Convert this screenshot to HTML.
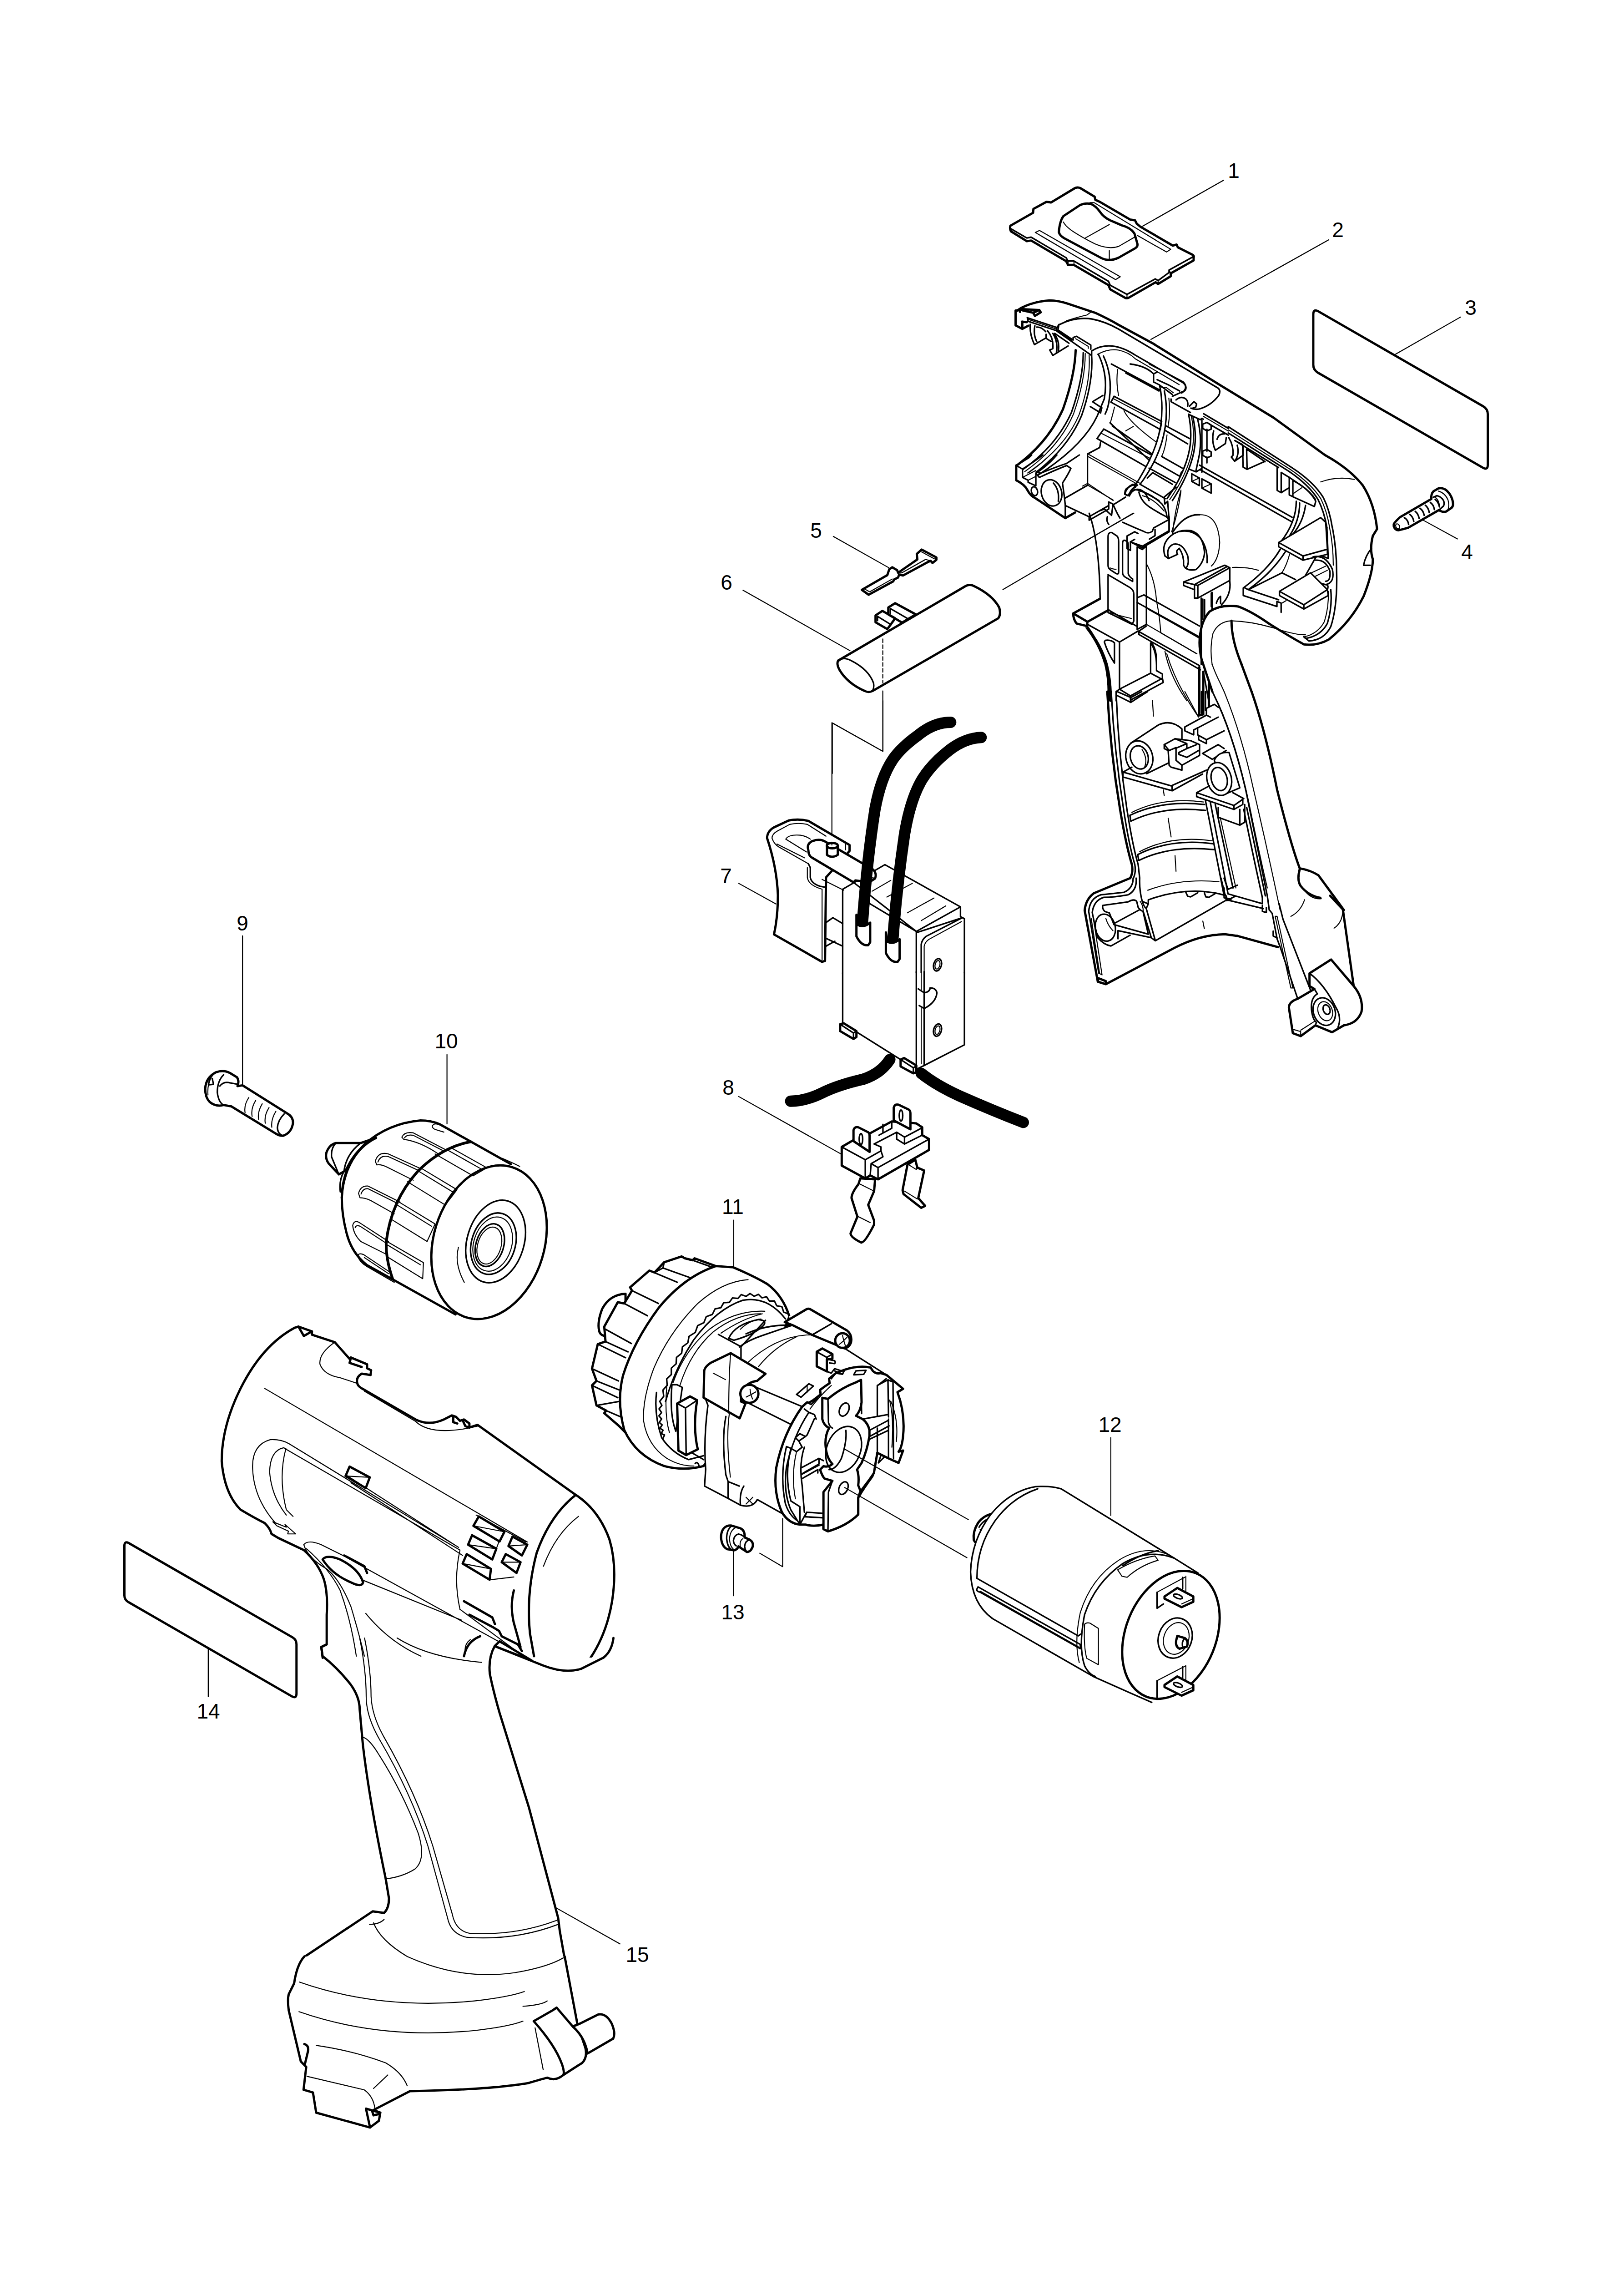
<!DOCTYPE html>
<html><head><meta charset="utf-8">
<style>
html,body{margin:0;padding:0;background:#fff;}
svg{display:block;}
svg *{vector-effect:non-scaling-stroke;}
.k{fill:none;stroke:#000;stroke-width:5;stroke-linejoin:round;stroke-linecap:round;}
.t{fill:none;stroke:#000;stroke-width:2.2;stroke-linejoin:round;stroke-linecap:round;}
.m{fill:none;stroke:#000;stroke-width:3.4;stroke-linejoin:round;stroke-linecap:round;}
.i{fill:none;stroke:#000;stroke-width:3.3;stroke-linejoin:round;stroke-linecap:round;}
.w{fill:#fff;}
.lbl{font-family:"Liberation Sans",sans-serif;font-size:46px;fill:#000;stroke:none;text-anchor:middle;}
</style></head><body>
<svg width="3570" height="5052" viewBox="0 0 3570 5052">
<rect x="0" y="0" width="3570" height="5052" fill="#fff"/>
<!-- part 2 tile A -->
<g transform="translate(2200,640) scale(0.36991)">
<path class="k" d="M90 120 L120 100 Q200 60 290 55 Q340 55 400 75 L560 128 Q640 165 700 200 L900 308 L1300 556 L1622 752"/>
<path class="m" d="M345 200 Q440 150 540 165 Q620 180 700 225 L1290 575 Q1310 590 1295 620 Q1250 680 1180 700 Q1150 705 1130 695"/>
<path class="i" d="M345 200 L340 230 L430 290 L430 275 L450 268 L535 320 L535 345 M335 238 L540 382 L540 355 Q600 315 680 328 Q740 340 800 380 L1085 545 Q1110 570 1095 590 L1075 605"/>
<path class="t" d="M445 282 L520 328 L520 340 M575 375 Q640 340 700 350 Q760 362 800 402 L1060 555"/>
<path class="k" d="M445 350 Q440 500 370 700 Q280 900 95 1035"/>
<path class="i" d="M490 365 Q490 520 420 720 Q330 920 130 1060"/>
<path class="t" d="M502 370 Q502 530 432 730 Q345 930 142 1072"/>
<path class="i" d="M540 385 Q550 540 480 740 Q400 930 210 1075"/>
<path class="t" d="M525 380 Q535 540 465 735 Q385 925 160 1080"/>
<path class="i" d="M580 375 Q640 500 615 640 L590 700 Q520 900 225 1090"/>
<path class="i" d="M610 385 Q665 500 645 640 Q640 690 620 730"/>
<path class="i" d="M1195 765 L1195 1075 M1225 820 L1225 950 M1225 985 L1225 1020"/>
<path class="i" d="M1200 790 L1225 780 L1250 795 L1250 820 L1225 830 L1200 815 Z M1200 950 L1225 940 L1250 955 L1250 980 L1225 990 L1200 975 Z"/>
<path class="i" d="M1135 1085 L1180 1110 L1180 1155 L1135 1130 Z M1195 1115 L1250 1145 L1250 1200 L1195 1170 Z"/>
<path class="t" d="M1135 1130 L1180 1110 M1195 1170 L1250 1145"/>
<path class="i" d="M1205 728 L1352 815 M1240 790 L1352 855"/>
<path class="t" d="M1205 744 L1352 831"/>
<path class="i" d="M1265 830 Q1250 890 1275 945 L1335 905 L1340 870 M1285 880 Q1295 845 1330 848 M1355 870 Q1385 920 1380 975 L1370 985 L1390 1010 L1440 975 L1440 920 M1390 1010 Q1420 970 1405 915"/>
<path class="i" d="M0 0"/>
</g>
<g transform="translate(2200,640) scale(0.19729)">
<path class="k" d="M165 215 L165 380 L240 420 L305 385 M240 340 L240 420 M235 340 L290 345 M165 215 L215 210 L215 230 M230 210 L245 200 L430 210 L445 235 L380 275 M245 215 L360 240 L380 275 M360 240 L430 210"/>
<path class="i" d="M295 295 L625 405 L620 440 L305 335 Z M625 405 L650 370"/>
<path class="t" d="M310 315 L615 420 M730 330 Q850 290 960 265 L1000 235"/>
<path class="i" d="M328 368 Q320 480 375 595 L505 520 L505 480 M380 385 Q360 480 400 560 M400 400 Q450 395 500 450 M505 525 L560 560"/>
<path class="i" d="M520 440 Q590 520 580 640 L545 655 L580 715 L750 610 M580 470 Q640 560 620 680 M600 480 Q660 560 640 670"/>
<path class="i" d="M620 440 Q680 450 720 500 L790 550 M600 470 L760 580"/>
</g>
<g transform="translate(2380,800) scale(0.19729)">
<path class="i" d="M110 420 L225 350 M85 475 L200 545 L210 490 M110 420 L215 490"/>
<path class="i" d="M320 0 L860 290 M480 100 L850 300 M350 360 L880 640 M315 425 L350 360 M315 425 L865 730 M880 640 L865 730 M235 725 L760 1010 M160 830 L235 725 M160 830 L700 1140 M200 870 L190 930 L60 1000"/>
<path class="t" d="M390 60 Q370 200 400 350 M340 385 L870 665 M205 770 L750 1050 M480 745 L565 695 M460 520 Q520 650 820 870 M355 480 Q330 580 310 650"/>
<path class="i" d="M305 655 L745 1075 M330 690 L770 1000"/>
<path class="t" d="M55 1000 L190 930 M55 1000 L55 1330 L0 1360 M55 1000 L640 1330 M55 1330 L340 1521"/>
<path class="i" d="M860 250 Q900 450 870 690 Q830 900 740 1080 Q680 1200 600 1330 L580 1360 M910 300 Q950 500 920 700 Q890 900 800 1080 Q730 1220 640 1340"/>
<path class="t" d="M960 380 Q980 550 950 700 M1210 580 Q1260 800 1210 1010 Q1150 1250 970 1510 M940 790 Q920 950 880 1030 M1080 1250 L1100 1200"/>
<path class="i" d="M1180 560 Q1230 800 1180 1000 Q1120 1250 940 1500 M1230 600 Q1280 820 1230 1020 Q1170 1260 1000 1521 M1280 610 Q1340 850 1290 1060 L1260 1200 L1180 1170"/>
<path class="i" d="M930 690 L1190 830 M920 740 L1170 890 M800 1090 L1080 1250 M880 1030 L1110 1160 M740 1160 L1030 1320 M780 1210 L1000 1340 M640 1340 L920 1500 M720 1270 L780 1210"/>
<path class="i" d="M470 1450 Q490 1370 560 1340 L590 1370 Q530 1400 520 1470 L470 1450 M520 1470 Q560 1380 640 1400 Q700 1420 740 1521 M640 1400 L850 1521"/>
<path class="i" d="M530 0 Q700 20 790 110 L790 200 L850 230 L1000 340 M790 110 L830 90 M745 0 L1120 200 Q1170 250 1130 300 L1000 360 M830 175 L960 235 L1080 300"/>
<path class="t" d="M880 260 L930 260 L1010 320"/>
<path class="i" d="M985 390 L985 420 L1200 540 M1040 400 Q1100 350 1150 390 Q1180 420 1170 470 M1190 470 L1240 420 L1270 445 L1260 480 L1220 495 M1180 560 L1310 620 L1330 605 L1345 615"/>
</g>

<!-- part 2 tile B -->
<g transform="translate(2500,1000) scale(0.36991)">
<path class="k" d="M811 -221 L1115 0 Q1260 80 1340 180 Q1410 290 1425 440 L1400 480 Q1380 560 1400 620 Q1400 700 1345 840 Q1270 990 1140 1095 Q1070 1135 990 1125 Q900 1075 780 1000 Q680 930 600 900 Q500 885 430 930 Q385 980 375 1060"/>
<path class="i" d="M1392 555 Q1355 600 1345 655 L1385 655"/>
<path class="t" d="M1090 160 Q1190 125 1290 145 M565 668 Q650 665 720 685"/>
<path class="i" d="M1160 432 Q1185 560 1185 700 Q1190 900 1150 1020 Q1110 1100 1020 1105 L990 1080"/>
<path class="t" d="M1143 432 Q1165 540 1165 655"/>
<path class="i" d="M1127 432 L1135 615 L1100 600 M1150 800 Q1160 900 1130 1000 Q1090 1075 1000 1090 L990 1080"/>
<path class="t" d="M1135 810 Q1140 900 1112 990 Q1075 1060 995 1080"/>
<path class="i" d="M370 60 L920 370 M375 88 L915 395 M350 100 L380 82"/>
<path class="i" d="M0 0"/>
<path class="i" d="M945 275 Q945 400 850 520 M1000 300 Q985 400 925 470 M965 285 Q965 390 905 480"/>
<path class="i w" d="M840 520 L1090 372 L1120 400 L1130 560 L985 600 Z"/>
<path class="i" d="M840 520 L840 545 L985 625 L985 600 M985 625 L1130 590 L1130 560"/>
<path class="i" d="M1045 605 Q1120 590 1160 680 Q1175 760 1120 770 Q1060 760 1030 710 M1060 625 Q1120 620 1145 690 Q1150 750 1120 750"/>
<path class="i" d="M850 560 Q780 680 630 790 L630 835 L830 900 L830 870 L855 880 L855 935 M880 575 Q800 700 660 800 L840 860 M640 790 L660 800 M660 800 L860 700 L940 740 M1060 610 Q1020 680 980 750"/>
<path class="t" d="M905 590 Q890 650 860 700 M1035 700 L1120 660 M1060 720 L1130 685 M860 880 L885 865"/>
<path class="i w" d="M845 810 L1030 700 L1130 800 L990 890 Z"/>
<path class="i" d="M845 810 L845 835 L990 915 L990 890 M990 915 L1135 835 L1130 800 M1130 800 Q1140 770 1120 770"/>
<path class="i" d="M165 600 Q140 530 200 480 Q250 440 320 450 Q390 470 400 580 Q395 640 350 680 Q310 690 285 670 L275 655"/>
<path class="i" d="M185 615 L165 600 M185 615 L240 590 Q225 570 250 555 M185 610 Q170 550 215 530 Q270 520 300 600 Q310 650 290 670 M250 555 Q280 600 275 655"/>
<path class="i" d="M210 460 Q280 350 370 355 M250 455 Q330 440 380 500 Q420 560 415 640"/>
<path class="t" d="M370 355 Q480 350 490 520 Q485 620 440 660"/>
<path class="i w" d="M275 755 L520 655 L550 670 L550 745 L360 850 L340 850 L340 800 L275 775 Z"/>
<path class="i" d="M360 775 L550 670 M360 775 L360 850 M340 770 L340 800 M275 755 L340 770 L360 775 M340 770 L530 665"/>
<path class="i" d="M380 850 L380 1244 M400 860 L400 960 M440 820 L440 900 M550 750 Q560 830 500 890 M470 880 Q480 850 495 840 L495 880"/>
<path class="t" d="M560 985 Q480 990 450 1060 Q430 1150 445 1244 M560 985 Q700 990 850 1040 Q950 1070 1000 1068"/>
<path class="k" d="M560 985 Q560 1100 620 1244"/>
</g>
<g transform="translate(2560,1380) scale(0.24661)">
<path class="k" d="M319 49 Q300 150 330 280 L426 568 M686 324 L776 568 M310 350 L310 780 L345 770 M345 390 L345 770 M395 500 L395 700"/>
<path class="t" d="M424 324 Q450 400 500 500 L531 568 M20 230 Q100 500 300 790"/>
</g>
<g transform="translate(2700,920) scale(0.19729)">
<path class="i" d="M0 90 L700 540 Q950 700 1060 880 Q1130 1020 1160 1216 M0 160 L680 590 Q900 740 1000 900 Q1070 1040 1100 1216 M75 245 L560 545 M680 655 L820 750 Q920 820 970 900"/>
<path class="t" d="M0 125 L690 565 Q920 720 1030 890 Q1100 1030 1130 1216 M725 835 L820 770"/>
<path class="i" d="M75 245 L160 290 L165 540 L210 565 L400 480 M205 340 L210 565 M205 340 L410 480 M545 545 L545 800 L590 825 L670 775 M590 600 L590 825 M590 600 L680 655 L680 850 L720 870 L960 980 M720 690 L720 870 M720 690 Q900 780 975 920 L960 980"/>
</g>

<!-- part 2 tile C -->
<g transform="translate(2350,1080) scale(0.36991)">
<path class="k" d="M25 725 L180 640 M25 725 L110 775 L235 705 M25 725 Q25 760 45 785 L105 800 L110 775 M105 800 Q180 900 215 1020 Q240 1120 235 1244 M110 815 Q190 910 225 1030 Q250 1130 248 1244"/>
<path class="t" d="M100 810 Q175 905 210 1020"/>
<path class="i" d="M120 130 Q180 300 185 640"/>
<path class="i" d="M232 270 Q232 240 255 245 L285 265 Q295 275 295 300 L295 480 Q295 495 280 488 L245 465 Q232 455 232 440 Z"/>
<path class="i" d="M318 310 Q318 285 335 292 L345 298 Q352 302 352 320 L352 490 Q360 510 378 520 L378 535 L335 510 Q318 500 318 480 Z"/>
<path class="i" d="M232 500 L232 720 L375 790 L385 770 L385 610 Q385 585 360 570 L232 495"/>
<path class="t" d="M245 720 Q300 740 370 755 M245 455 Q265 465 280 462"/>
<path class="i" d="M405 330 L405 820 M460 320 L460 790 L405 820 M405 330 L435 345 L460 325"/>
<path class="i" d="M345 265 L345 340 L365 350 L365 300 L435 335 L595 240 M345 265 L390 240 L410 250 M365 300 L390 285 M595 240 L595 150"/>
<path class="t" d="M0 350 L385 130 M665 0 Q650 120 610 240"/>
<path class="i" d="M410 630 L445 615 L775 800 M405 660 L775 865 M410 830 L775 1035 M415 850 L780 1060 M415 850 L415 830 L460 800"/>
<path class="t" d="M470 700 L770 870 M460 790 L760 965"/>
<path class="i" d="M300 895 L410 830 M300 895 L300 1175 L365 1215 L555 1110 L555 1085 L520 1065 L520 990 Q515 930 490 900 M485 900 L485 1080 L300 1175 M485 1080 L550 1115 M365 1215 L365 1240 L560 1135 L555 1110 M300 1175 L280 1190 L280 1244"/>
<path class="i" d="M215 885 Q250 880 270 900 L270 1020 Q230 960 210 895 Z"/>
<path class="i" d="M235 705 L400 800 M110 790 L300 895"/>
<path class="t" d="M460 430 Q510 520 520 650 Q540 750 545 840 L760 965 M490 910 Q520 960 520 1060 M570 950 Q600 1100 700 1244"/>
<path class="i" d="M795 640 L795 760 M850 600 L850 700 M800 1080 L830 1244"/>
</g>

<!-- part 2 tile D -->
<g transform="translate(2350,1520) scale(0.43157)">
<path class="k" d="M195 0 Q210 300 260 600 Q290 780 320 880 Q328 920 312 950"/>
<path class="i" d="M215 0 Q230 300 278 600 Q305 780 335 880 Q342 920 328 950"/>
<path class="i" d="M240 0 Q250 300 295 600 Q325 790 352 880 L360 950"/>
<path class="k" d="M930 0 Q1000 200 1060 500 Q1130 780 1175 900 Q1230 910 1270 935 L1400 1112 M1175 905 Q1160 960 1180 990 Q1220 1040 1280 1050"/>
<path class="i" d="M730 0 Q830 200 900 500 Q960 800 1010 1040 L1020 1112"/>
<path class="t" d="M790 0 Q880 220 940 500 Q1010 800 1075 1112 M760 60 Q850 260 915 560 Q970 830 1010 1000"/>
<path class="i" d="M245 20 L315 55 L400 0 M315 30 L315 55 M245 0 L315 30 L370 0"/>
<path class="t" d="M425 45 L430 125 M480 500 L485 530 M505 645 L520 740 M540 835 L545 915 M590 0 L660 130"/>
<path class="i w" d="M315 262 L455 170 Q520 140 575 190 L575 330 L395 418 Z"/>
<ellipse class="i w" cx="358" cy="335" rx="68" ry="85" transform="rotate(-15 358 335)"/>
<ellipse class="i" cx="358" cy="335" rx="45" ry="60" transform="rotate(-15 358 335)"/>
<path class="t" d="M372 295 Q402 340 385 385"/>
<path class="i" d="M275 410 L520 480 L700 400 M275 435 L525 505 L525 480 M525 505 L680 420 M275 410 L320 385 M275 410 L275 435"/>
<path class="i w" d="M485 270 L540 240 L620 250 L665 270 L665 325 L575 375 L575 400 L520 385 L510 375 L505 300 L485 290 Z"/>
<path class="i" d="M540 240 L600 265 L600 290 L560 310 L560 320 L600 335 L660 300 M540 290 L600 265 M510 300 L545 285 L545 350 L575 375 M485 270 L510 300 M600 290 L650 270"/>
<path class="i" d="M590 180 L700 120 L700 85 L740 65 L760 80 M590 180 L590 200 L635 220 L635 195 L655 185 L655 220 L700 245 L790 200 M655 185 L760 130 M700 120 L720 130 M660 225 L660 245 L700 265 L700 245 M680 315 L730 345 L800 300 M680 315 L760 270 L790 290 M675 0 L675 110 M695 0 L695 95"/>
<path class="i w" d="M740 350 Q760 305 815 310 L870 490 L800 520 Z"/>
<ellipse class="i w" cx="765" cy="445" rx="62" ry="85" transform="rotate(-15 765 445)"/>
<ellipse class="i" cx="765" cy="445" rx="40" ry="60" transform="rotate(-15 765 445)"/>
<path class="i" d="M650 515 L715 480 M650 515 L840 580 L890 545 L835 515 M650 515 L650 535 L840 600 L840 580 M840 600 L885 575 L885 548 M760 590 L760 640 L870 680 L870 600 M870 680 L895 665 L895 575"/>
<path class="i" d="M695 555 L790 1040 M720 565 L810 1030 M745 575 L835 1000 M890 600 Q930 800 985 1050 M905 590 Q950 800 1000 1040"/>
<path class="t" d="M770 640 L850 1000"/>
<path class="i" d="M310 630 Q480 550 690 575 M315 660 Q480 580 695 605 M310 630 L315 660 M350 830 Q520 745 735 775 M355 860 Q520 780 740 805 M350 830 L355 860"/>
<path class="t" d="M320 615 Q480 535 685 562 M360 815 Q520 730 730 760"/>
<path class="i" d="M790 1000 L790 1050 L810 1055 M810 1030 L985 1080 L985 1050 M800 1060 L990 1105"/>

</g>

<!-- part 2 tile E -->
<g transform="translate(2350,1960) scale(0.43157)">
<path class="k" d="M855 224 L1065 282"/>




<path class="i" d="M1020 92 L1035 110 L1060 240 L1075 280 L1165 545 M1070 60 L1090 140 L1230 500 M985 70 L985 100 L1005 105 L1005 80 M1040 200 L1040 225 L1060 235 M800 20 L800 45 L825 40"/>
<path class="t" d="M1050 125 L1060 125 L1140 490 L1130 490 Z"/>
<path class="k" d="M1330 20 L1395 90 L1450 480 Q1500 540 1490 610 Q1470 670 1400 680 L1340 715 L1255 680 L1180 735 L1140 720 L1120 590 Q1120 560 1165 545 L1250 495 L1225 480 L1225 415 L1335 345 L1450 480"/>
<path class="i" d="M1225 415 Q1300 470 1360 590 Q1390 640 1370 690"/>
<ellipse class="i" cx="1300" cy="610" rx="55" ry="72" transform="rotate(-20 1300 610)"/>
<ellipse class="t" cx="1305" cy="608" rx="36" ry="50" transform="rotate(-20 1305 608)"/>
<ellipse class="i" cx="1312" cy="600" rx="17" ry="25" transform="rotate(-20 1312 600)"/>
<path class="i" d="M1250 495 L1265 520 Q1230 540 1235 600 Q1240 650 1260 665 L1255 680"/>
<path class="t" d="M1180 705 L1250 660 M1140 700 L1180 712 L1180 735 M1205 0 Q1240 40 1285 35 M1130 125 Q1180 100 1200 40 M1350 185 Q1390 160 1395 100"/>
</g>
<g transform="translate(2360,1930) scale(0.22195)">
<path class="k" d="M560 0 L200 150 Q120 210 110 320 L240 1025 L320 1050 L1000 690 Q1250 560 1500 555 L1622 572 M240 1025 L245 990 L320 1020 L320 1050"/>
<path class="i" d="M590 0 Q590 100 500 140 L270 165 Q160 200 150 330 L250 940 M620 0 Q630 120 540 165 Q400 190 300 190 Q200 220 185 340 L235 585 Q300 660 370 672 L560 565"/>
<path class="t" d="M175 400 L258 945 L282 958 M200 420 L282 958 M320 400 Q340 470 390 520 M1280 425 L1295 500 M735 120 Q1050 0 1440 35 M660 230 Q690 270 690 330"/>
<ellipse class="i" cx="315" cy="490" rx="98" ry="135" transform="rotate(-12 315 490)"/>
<path class="i" d="M290 270 Q430 250 540 235 Q600 200 625 230 L640 290 Q660 320 690 330 L770 590 L440 520 L440 600 M290 270 Q280 300 310 330 L355 345 L400 460 M400 450 L650 315 M400 460 L740 555 L690 340"/>
<path class="i" d="M680 230 L740 255 L740 215 Q1000 120 1250 130 Q1400 140 1480 165 M740 255 L720 300 L810 620 L770 590 M810 620 L1500 225 M655 0 Q650 120 680 230 Q700 290 720 300"/>
<path class="i" d="M1110 135 L1130 180 L1160 185 L1230 145 M1295 145 L1310 185 L1340 190 L1400 155 M1500 160 L1520 200 L1550 205 L1600 180 M1460 0 L1500 165 M1490 0 L1530 110 L1622 70"/>
</g>

<!-- part 2 tile F -->
<g transform="translate(2200,1080) scale(0.30826)">
<path class="t" d="M15 700 L945 155"/>
</g>
<g transform="translate(2200,1000) scale(0.30826)">
<path class="k" d="M110 75 L110 180 Q170 210 190 250 Q210 290 250 310 L460 450 L530 410"/>
<path class="i" d="M460 360 L460 450 M110 75 L155 100 L155 160 L195 180 L195 195 L250 220 L250 130 L275 160 M110 75 L200 20 L220 0 M155 100 Q220 60 300 0 M250 130 Q330 80 400 0 M275 160 Q380 110 470 75 L500 95 Q480 140 440 200 M265 125 L285 130 Q380 90 470 60 L560 0"/>
<path class="t" d="M155 160 L250 110 M195 180 L245 155 M200 125 Q260 85 330 20 M620 0 L620 215 L800 320 M620 215 L460 305 M620 10 L960 200 M1010 290 Q1090 310 1165 400 M1285 250 Q1240 400 1225 560"/>
<ellipse class="i" cx="240" cy="258" rx="22" ry="32" transform="rotate(-15 240 258)"/>
<ellipse class="i" cx="362" cy="270" rx="72" ry="95" transform="rotate(-15 362 270)"/>
<path class="i" d="M375 200 Q420 250 410 330 M440 200 L455 310 L620 215 M455 310 L460 360 L630 440 L770 360 L770 335 L800 350 M630 440 L630 465 L770 385 L770 360 M700 400 L740 385 L790 430 L800 350 M760 440 Q750 470 770 495 M800 350 Q830 420 850 450 M810 350 L890 300"/>
<path class="i" d="M885 280 Q880 240 920 225 L960 205 L975 215 Q930 240 920 270 L905 290 Z M920 270 Q950 235 990 255 M985 265 Q1000 330 1060 370 Q1120 410 1180 440 L1200 460 L1190 330 L1170 350 L1165 300 L1250 230 M990 255 Q1080 280 1150 350 Q1180 390 1185 440"/>
<path class="i" d="M1200 460 L1090 520 L1080 545 Q1050 565 1020 545 L960 520 L870 480 M1200 460 L1200 540 L1010 650 L925 620 M1100 530 L1100 575 L1060 600"/>
</g>
<line class="t" x1="2921" y1="527" x2="2530" y2="746"/>
<text class="lbl" x="2941" y="521">2</text>

<!-- parts 5,6 tile G -->
<g transform="translate(1560,1100) scale(0.43157)">
<path class="k w" d="M775 455 L905 380 L915 350 L930 340 L955 355 L960 368 L1058 300 L1055 272 L1080 250 L1155 290 L1155 302 L1135 318 L1125 307 L1105 317 L985 382 L965 377 L960 392 L940 402 L935 412 L810 480 Z"/>
<path class="t" d="M785 448 L815 465 L930 400 M965 368 Q975 372 985 365 L1100 300 L1125 307 M1080 262 L1145 297"/>
<path class="k w" d="M845 585 L880 562 L945 600 L905 655 L845 620 Z M910 545 L945 523 L1050 580 L980 622 L910 580 Z"/>
<path class="i" d="M855 590 L920 630 M855 590 L855 612 M920 550 L1010 602 M920 550 L920 575"/>
<path class="k w" d="M655 815 L1305 435 Q1325 425 1345 435 Q1440 480 1475 545 Q1485 580 1470 600 L830 970 Q810 980 790 970 Q700 930 660 860 Q645 830 655 815 Z"/>
<path class="i" d="M660 815 Q680 795 720 815 Q810 860 835 930 Q840 960 825 972"/>
<path class="t" stroke-dasharray="8 5" d="M882 705 L882 930"/>
<path class="t" d="M882 970 L882 1277 L625 1133 L625 1390 M630 183 L912 342 M170 457 L715 765"/>
</g>
<text class="lbl" x="1794" y="1182">5</text>
<text class="lbl" x="1597" y="1296">6</text>
<!-- part 7 tile H -->
<g transform="translate(1600,1540) scale(0.43157)">
<path class="t" d="M790 0 L790 258 L530 112 L530 720 M55 930 L245 1035"/>
<path class="k w" d="M200 700 Q200 665 235 645 L310 610 Q360 600 410 612 L620 735 L620 765 L500 900 L495 1325 L480 1330 L235 1190 Q255 1100 255 990 Q250 850 200 700 Z"/>
<path class="t" d="M225 700 Q225 680 250 665 L315 630 Q360 620 405 630 L500 690 M225 700 Q235 730 260 745 L410 830 M295 705 Q310 680 370 685 Q400 690 420 705 M295 705 L400 770 M250 730 L390 800 M405 850 L405 900 Q410 940 480 960 L480 1320 M600 730 L600 760"/>
<path class="i" d="M410 830 L420 850 L420 900 Q425 930 470 945 L495 950"/>
<path fill="#fff" stroke="none" d="M585 960 L800 835 L1185 1050 L1185 1100 L1205 1110 L1205 1395 L585 1395 Z"/>
<path class="i" d="M585 1390 L585 960 L800 835 L1185 1050 L1185 1100 L1205 1110 L1205 1390"/>
<path class="i" d="M640 925 L960 1175 M700 1020 L960 1175 L1185 1050 M960 1175 L960 1390 M965 1180 L1195 1105 M985 1390 L985 1240 Q990 1215 1010 1200 L1195 1105"/>
<path class="k w" d="M410 760 Q400 730 430 715 Q470 700 500 720 L740 860 Q760 880 750 905 L720 925 L650 915 L640 925 L430 800 Q410 790 410 760 Z"/>
<path class="k w" d="M505 740 L505 785 Q530 805 560 785 L560 740 Z"/>
<ellipse class="k w" cx="532" cy="738" rx="28" ry="14"/>
<path class="t" d="M480 910 L590 965 M655 915 Q700 930 740 900 M1000 1390 L1000 1250 Q1005 1228 1025 1215 L1190 1125 M735 970 L830 915 M810 1000 L940 930 M915 1080 L1050 1005 M985 1120 L1110 1045 M530 720 L530 735"/>
<ellipse class="i" cx="1068" cy="1345" rx="20" ry="32" transform="rotate(15 1068 1345)"/>
<ellipse class="t" cx="1068" cy="1345" rx="12" ry="22" transform="rotate(15 1068 1345)"/>
<path class="i" d="M500 1130 L535 1105 L585 1135 M500 1210 L585 1250 M500 1250 L545 1225"/>
<path fill="none" stroke="#000" stroke-width="25" stroke-linecap="round" d="M1135 110 Q1050 110 970 175 Q880 240 840 300 Q780 390 750 550 Q710 800 685 1140"/>
<path fill="none" stroke="#000" stroke-width="25" stroke-linecap="round" d="M1290 187 Q1210 190 1130 250 Q1040 320 990 400 Q930 500 900 680 Q860 950 840 1225"/>
<path class="k w" d="M655 1090 L655 1200 Q680 1250 715 1245 L725 1230 L725 1130 Q690 1160 660 1140 Z"/>
<path class="k w" d="M805 1180 L805 1285 Q830 1335 865 1330 L875 1315 L875 1215 Q840 1245 810 1225 Z"/>
</g>
<!-- part 7/8 tile I -->
<g transform="translate(1600,2100) scale(0.43157)">
<path fill="none" stroke="#000" stroke-width="25" stroke-linecap="round" d="M825 530 Q780 600 690 630 Q560 660 480 700 Q400 740 320 742"/>
<path fill="none" stroke="#000" stroke-width="25" stroke-linecap="round" d="M985 600 Q1060 660 1180 715 Q1350 790 1505 850"/>
<path fill="#fff" stroke="none" d="M585 88 L585 345 L960 580 L1000 560 L1205 455 L1205 88 Z"/>
<path class="i" d="M585 88 L585 345 L960 580 L1000 560 L1205 455 L1205 88"/>
<path class="i" d="M960 82 L960 580 M1000 82 L1000 560"/>
<path class="t" d="M985 82 L985 175 M985 270 L985 550 M1000 190 L1000 270"/>
<path class="k w" d="M572 350 L590 345 L655 385 L655 415 L640 425 L572 385 Z"/>
<path class="i" d="M640 395 L640 425 M572 350 L640 395 L655 385"/>
<path class="k w" d="M880 530 L898 522 L960 560 L960 595 L945 600 L880 565 Z"/>
<path class="i" d="M945 572 L945 600 M880 530 L945 572 L960 562"/>
<path class="i" d="M970 170 L1000 190 Q1030 185 1030 165 Q1060 165 1065 190 Q1060 240 1000 270 L975 255"/>
<ellipse class="i" cx="1068" cy="380" rx="20" ry="32" transform="rotate(15 1068 380)"/>
<ellipse class="t" cx="1068" cy="380" rx="12" ry="22" transform="rotate(15 1068 380)"/>
<path class="k w" d="M580 975 L640 940 L725 905 L835 845 L960 855 L990 875 L990 915 L1025 935 L1025 990 L765 1140 L725 1120 L700 1135 L580 1070 Z"/>
<path class="i" d="M580 975 L700 1040 L780 995 L780 975 L745 960 L860 900 L860 935 L900 960 L990 915 M700 1040 L700 1135 M780 995 L790 1025 L730 1060 L765 1080 L1025 935 M765 1080 L765 1140 M730 1060 L725 1120 M900 960 L900 925 L985 880 M860 900 L900 925 M725 905 L835 845 L835 880 L770 915 M790 860 L790 900"/>
<path class="k w" d="M640 945 L640 890 Q645 870 665 875 L715 900 Q722 905 722 920 L722 1000 Z"/>
<ellipse class="i" cx="678" cy="935" rx="9" ry="28"/>
<path class="k w" d="M845 840 L845 775 Q850 755 870 760 L922 785 Q930 790 930 805 L930 885 Z"/>
<ellipse class="i" cx="882" cy="815" rx="9" ry="28"/>
<path class="k w" d="M675 1135 L665 1165 Q630 1210 630 1235 L660 1330 L625 1415 Q625 1435 680 1462 Q700 1460 745 1370 L745 1350 L715 1270 L745 1200 L750 1140 Z"/>
<path class="k w" d="M915 1065 L890 1195 L895 1215 L985 1285 L1005 1275 L970 1235 L1000 1095 L965 1080 L955 1040 Z"/>
<path class="t" d="M675 1165 L745 1200 M665 1330 L725 1360 M920 1065 L960 1090 L965 1080 M965 1240 L900 1200 M55 718 L575 1010"/>
</g>

<!-- parts 9,10 tile J -->
<g transform="translate(400,2240) scale(0.55487)">
<path class="t" d="M240 -330 L240 262 M1050 140 L1050 415"/>
<path class="k w" d="M92 275 Q95 230 135 210 Q165 200 190 213 L218 230 Q228 245 220 265 L240 262 L415 372 Q440 385 440 410 Q435 450 400 462 Q385 462 370 452 L195 345 L165 340 Q135 348 110 328 Q92 310 92 275 Z"/>
<path class="i" d="M135 210 Q110 225 105 260 L125 258 L120 235 M165 220 Q140 245 140 290 Q145 330 165 340 M150 265 Q165 245 190 252 L222 258 M405 375 Q380 400 378 430 Q380 455 400 462"/>
<path class="t" d="M265 310 Q245 340 250 370 M292 322 Q272 355 278 385 M318 335 Q298 368 304 398 M345 350 Q325 382 330 412 M372 365 Q352 398 356 428 M115 232 Q100 260 103 300"/>
</g>
<!-- part 10 tile V -->
<g transform="translate(700,2440) scale(0.32059)">
<path class="k w" d="M350 205 L290 225 L120 225 Q75 235 55 290 Q45 330 70 365 L140 440 L175 420 L300 300 Z"/>
<path class="i" d="M120 225 Q85 260 90 320 L140 440 M150 560 Q140 480 175 420 Q190 300 290 225"/>
<path fill="#fff" stroke="none" d="M160 600 Q170 380 320 230 Q480 90 700 70 Q770 70 830 95 L1320 370 L1170 905 L940 1400 L330 1060 Q230 980 195 850 Q160 720 160 600 Z"/>
<path class="k" d="M940 1400 L330 1060 Q230 980 195 850 Q160 720 160 600 Q170 380 320 230 Q480 90 700 70 Q770 70 830 95 L1320 370"/>
<path class="k" d="M395 190 Q270 250 200 400 Q160 500 160 600"/>
<path class="t" d="M370 200 Q250 260 180 420"/>
<ellipse class="k w" cx="1170" cy="905" rx="380" ry="538" transform="rotate(17 1170 905)"/>
<path fill="none" stroke="#000" stroke-width="6" d="M1050 215 Q850 250 680 420 Q500 620 465 900 Q460 1020 510 1160"/>
<path class="t" d="M1060 225 L830 100 Q790 85 780 110 Q785 130 810 135 L860 150 M870 270 L650 155 Q590 145 572 185 L585 200 Q700 215 830 305 M700 400 L480 300 Q410 280 390 350 L400 375 Q430 370 470 390 L650 480 M560 630 L340 520 Q290 515 275 570 L285 600 Q320 600 360 620 L520 710 M480 900 L280 770 Q245 750 235 790 Q240 850 290 900 L470 990 M490 1110 L310 990 Q275 975 270 1000 Q280 1040 330 1070 L520 1180"/>
<path class="t" d="M850 275 L650 172 Q605 165 590 190 M680 410 L480 318 Q425 305 408 355 M545 640 L340 538 Q305 535 292 575 M470 915 L285 795 Q258 785 252 805 M480 1120 L315 1010"/>
<path class="t" d="M905 255 L1155 395 L1060 450 L800 300 M700 395 L950 545 L870 650 L610 490 M545 625 L800 780 L745 900 L495 745 M470 900 L720 1045 L715 1155 L480 1010"/>
<path class="t" d="M880 270 L1120 405 M690 420 L920 560 M540 650 L775 795 M475 925 L700 1060 M960 940 Q930 1050 1000 1180 M1260 330 Q1330 360 1380 385"/>
<ellipse class="m" cx="1215" cy="900" rx="195" ry="290" transform="rotate(17 1215 900)"/>
<ellipse class="m" cx="1200" cy="915" rx="150" ry="215" transform="rotate(17 1200 915)"/>
<ellipse class="t" cx="1195" cy="918" rx="130" ry="190" transform="rotate(17 1195 918)"/>
<ellipse class="m" cx="1175" cy="925" rx="95" ry="150" transform="rotate(17 1175 925)"/>
<ellipse class="t" cx="1172" cy="928" rx="80" ry="130" transform="rotate(17 1172 928)"/>
</g>
<text class="lbl" x="981" y="2304">10</text>
<text class="lbl" x="533" y="2045">9</text>

<!-- part 11 tile K -->
<g transform="translate(1290,2740) scale(0.28360)">
<path class="k w" d="M300 365 Q180 370 120 480 Q80 580 95 650 Q100 680 130 690 L300 600 Z"/>
<path class="k w" d="M300 1440 L250 1390 L135 1290 L150 1270 L75 1230 L40 1075 L75 1040 L40 945 L85 755 L145 735 L135 620 L240 430 L290 440 L350 340 L335 315 L485 185 L525 200 L600 120 L735 75 L760 90 L820 105 L835 90 L1000 150 L700 1000 Z"/>
<path class="i" d="M485 185 L700 275 M590 165 L800 240 M600 120 L590 165 L525 200 M820 105 L975 160 M350 340 L555 440 M290 440 L470 535 M145 640 L345 750 M85 755 L300 860 M145 735 L320 815 M75 1040 L250 1110 M40 945 L245 1040 M75 1230 L245 1200 M150 1270 L265 1320 M40 1075 L240 1170"/>
<path class="k w" d="M1000 150 Q760 230 560 470 Q360 740 280 1000 Q230 1200 290 1420 Q380 1620 600 1700 Q750 1740 905 1700 L1400 1000 L1570 540 Q1520 380 1400 290 Q1300 230 1135 160 Z"/>
<path class="t" d="M1250 255 Q1050 270 860 440 Q640 660 520 940 Q430 1180 440 1350 Q470 1540 620 1640 Q720 1700 830 1700 M1380 500 Q1150 490 950 640 Q760 800 670 1050 M1350 520 Q1160 520 980 660 Q800 820 720 1080 M620 1080 Q600 1300 640 1440"/>
<path class="i" d="M1567 523 L1526 507 L1512 465 L1472 458 L1454 420 L1415 421 L1393 388 L1357 396 L1330 369 L1297 384 L1265 363 L1235 385 L1197 371 L1171 401 L1129 397 L1105 431 L1061 434 L1039 473 L994 482 L973 525 L926 542 L907 589 L859 612 L841 664 L792 695 L783 745 L741 776 L735 826 L695 858 L692 908 L655 941 L655 991 L619 1025 L623 1074 L590 1111 L596 1159 L565 1199 L582 1230 L560 1257 L579 1285 L559 1311 L580 1335 L561 1361 L584 1381 L567 1407 L591 1422 L577 1448 L602 1459 L591 1484"/>
<path class="i" d="M1540 560 Q1400 380 1210 415 Q1010 480 830 720 Q680 950 610 1200 M540 1130 Q520 1300 580 1480 Q660 1600 790 1650 L905 1620 M660 1070 Q640 1300 690 1430 L740 1090 L700 1070 Z M820 1600 L905 1650 M840 1680 Q860 1660 870 1700"/>
<path class="k w" d="M700 1215 L800 1160 L855 1190 Q820 1400 860 1570 L770 1615 L710 1580 Z"/>
<path class="i" d="M700 1215 L765 1250 L855 1190 M765 1250 L770 1615"/>
</g>
<g transform="translate(1280,2620) scale(0.49322)">
<path class="t" d="M675 125 L675 335 M893 1455 L893 1669 L791 1609"/>
<path fill="#fff" stroke="none" d="M700 690 Q740 660 800 640 L950 590 L920 555 L995 520 L1135 600 L1180 620 Q1200 640 1195 670 L1175 690 L1260 745 L1330 790 L1350 815 L1395 830 L1420 860 L1440 1000 Q1450 1100 1425 1170 L1400 1190 L1330 1165 L1225 1375 L1225 1440 L1085 1515 L985 1460 Q930 1470 905 1440 L780 1370 Q760 1410 705 1395 L650 1365 L545 1310 L550 1235 Q540 1100 560 950 L545 910 L600 800 Z"/>
<path class="i" d="M700 690 Q740 660 800 640 L940 592 M905 1440 L780 1370 Q760 1410 705 1395 L650 1365 L545 1310 L550 1235 Q540 1100 560 950 L545 910"/>
<path class="i" d="M640 1000 Q620 1100 640 1260 L650 1290 L700 1310 M650 1365 L650 1290 M720 1310 Q700 1340 705 1395"/>
<path class="t" d="M655 990 Q640 1100 660 1270 M730 1360 L760 1390 M760 1360 L730 1390"/>
<path class="i" d="M775 870 L990 960 M740 940 L940 1040"/>
</g>
<g transform="translate(1640,2860) scale(0.24661)">
<path class="k w" d="M345 185 L540 70 Q560 60 580 75 L900 260 Q950 300 935 370 Q920 410 880 420 L590 300 L420 215 Z"/>
<path class="i" d="M590 300 L760 200 M0 290 Q200 200 420 215 M880 420 L1250 655"/>
<path class="t" d="M0 560 Q250 320 540 300 L590 300 M600 290 L735 215"/>
<circle class="k w" cx="860" cy="350" r="65"/>
<path class="t" d="M830 385 Q865 360 900 320 M860 305 Q870 350 885 395"/>
<path class="k w" d="M630 450 L680 420 L770 470 L770 510 L720 520 L720 625 L650 590 L630 580 Z"/>
<path class="i" d="M630 450 L720 500 L770 470 M720 500 L720 625 M740 520 L790 530 Q800 545 790 555 L745 550 M720 625 L760 640 L790 600 L850 620"/>
<path class="i" d="M450 830 L560 735 L600 755 L490 855 Z"/>
<path class="t" d="M545 750 L545 810"/>
<path class="k w" d="M500 940 L545 900 L560 905 L600 880 L665 830 L660 790 L700 760 L745 730 L740 690 L800 640 L880 610 Q1000 570 1110 590 L1130 620 Q1160 650 1200 640 L1250 655 L1400 780 L1350 810 Q1420 1000 1400 1200 Q1390 1300 1360 1340 L1400 1330 L1360 1440 L1270 1400 L1170 1350 L1140 1530 L1030 1700 L1000 1750 L1000 1900 Q900 2000 730 2050 L690 2030 L690 1990 Q600 2010 530 1990 L480 1990 Q380 1980 320 1880 Q240 1700 270 1480 Q330 1180 500 940 Z"/>
<path class="i" d="M560 990 Q420 1200 360 1480 Q330 1700 400 1860 L480 1990 M545 900 L580 920 L640 860 M520 960 L560 990 L610 1010 L625 1050 M860 650 L880 610 M760 690 L800 640 L860 650 L790 620"/>
<path class="t" d="M760 750 Q650 850 570 960 M450 1340 Q400 1550 440 1760 M1290 890 Q1360 1050 1340 1250 M1280 880 Q1320 1050 1300 1300"/>
<path class="i" d="M980 620 L1070 615 L1050 650 L960 655 Z M1180 745 L1250 690"/>
<path class="i" d="M440 1215 L480 1180 L530 1205 L545 1190 L610 1045 M440 1215 L470 1245 L530 1205 M360 1295 L400 1310 L450 1340 L500 1300 L470 1245 M400 1310 Q340 1550 400 1780 L480 1830 L480 1990 M360 1295 Q300 1550 350 1800 Q380 1900 450 1950 M540 1880 L525 1920 L690 1930 M480 1990 L540 1880 L690 1890"/>
<path class="i" d="M500 1480 L650 1400 L650 1450 L510 1530 M500 1540 L650 1460 M500 1580 L640 1500 L640 1530 M650 1400 L690 1420 M520 1300 Q470 1450 500 1640 L520 1880"/>
<path class="i" d="M1025 700 L1030 1000 M1170 750 L1170 1020 M1170 750 L1265 700 L1270 1030 M1265 700 L1310 720 L1315 1400 M1170 1130 L1170 1350 M1270 1050 L1270 1400 M1100 1150 L1270 1060 M1110 1200 L1275 1110 M1100 1150 L1100 1200 L1110 1200 M1040 1050 L1260 1010 M1100 1230 L1270 1150 M1020 1690 L1140 1530 L1130 1560 L1030 1700 M1200 1380 L1180 1440 L1230 1390"/>
<path class="k w" d="M680 860 L680 1050 Q690 1100 740 1130 Q700 1200 710 1300 Q720 1400 770 1450 Q740 1480 690 1470 L660 1500 Q680 1560 700 1580 L770 1600 L690 1700 L690 2030 L730 2050 Q900 2000 1000 1900 L1000 1750 L1020 1690 L1000 1640 Q1010 1560 990 1500 L1030 1440 Q1080 1330 1100 1200 L1100 1150 Q1090 1090 1040 1050 L980 1020 Q1020 980 1030 900 L1025 700 L985 720 Q850 770 730 870 Z"/>
<path class="i" d="M730 870 L735 1080 Q745 1120 770 1130 M730 2050 L735 1700 L770 1600"/>
<ellipse class="i" cx="870" cy="1320" rx="150" ry="212" transform="rotate(22 870 1320)"/>
<path class="i" d="M890 1150 Q900 1250 850 1400 Q800 1500 740 1500"/>
<ellipse class="i" cx="875" cy="965" rx="40" ry="62" transform="rotate(25 875 965)"/>
<ellipse class="i" cx="868" cy="1665" rx="38" ry="60" transform="rotate(25 868 1665)"/>
<path class="t" d="M875 1315 L1982 1946 M880 1660 L1969 2285"/>
</g>

<g transform="translate(1290,2740) scale(0.28360)">
<path class="i" d="M1020 680 L1195 775 L1385 570 M1100 710 Q1150 600 1330 565 Q1400 570 1370 610 Q1300 680 1140 725 Z M1195 775 L1195 860"/>
<path class="t" d="M1040 670 Q1200 560 1360 520 M1190 640 Q1260 570 1350 560 M1330 930 Q1450 780 1622 700"/>
<path class="k w" d="M910 960 Q915 930 960 900 L1115 825 L1385 985 L1320 1040 Q1240 1050 1215 1110 Q1195 1160 1195 1200 L1230 1215 L1185 1330 L905 1170 Z"/>
<path class="t" d="M980 980 L1075 1030 M1115 825 Q1100 1000 1100 1290"/>
<circle class="k w" cx="1260" cy="1140" r="70"/>
<path class="t" d="M1235 1165 Q1270 1150 1310 1125 M1265 1105 Q1270 1150 1285 1180"/>
</g>

<text class="lbl" x="1611" y="2668">11</text>

<!-- part 12 tile L -->
<g transform="translate(2000,3080) scale(0.46856)">
<path class="t" d="M943 170 L943 535"/>
<path class="k w" d="M400 525 Q350 530 320 570 Q295 610 300 650 Q310 670 330 665 L420 560 Z"/>
<path class="i" d="M385 545 Q345 555 325 590"/>
<path class="t" d="M330 600 L340 640 M345 585 L355 625"/>
<path fill="#fff" stroke="none" d="M285 800 Q290 650 380 530 Q470 420 590 400 Q660 395 710 410 L1240 735 L1330 790 L1225 1095 L1110 1400 L1040 1370 L860 1290 L390 1020 Q290 950 285 800 Z"/>
<path class="i" d="M1135 1412 L1040 1370 L860 1290 L390 1020 Q290 950 285 800 Q290 650 380 530 Q470 420 590 400 Q660 395 710 410 L1240 735 L1352 805"/>
<ellipse class="k w" cx="1225" cy="1095" rx="212" ry="312" transform="rotate(22 1225 1095)"/>
<path class="i" d="M1240 735 Q1120 690 1000 760 Q870 850 820 1000 Q790 1150 820 1240 Q840 1280 870 1290"/>
<path class="t" d="M1215 720 Q1100 670 980 745 Q850 830 800 990 Q770 1130 795 1225"/>
<path class="i" d="M315 830 Q315 680 400 560 Q480 450 600 410 M315 830 L790 1100 L805 1090 M315 880 L320 870 L800 1140 L800 1160 L330 895 Q310 890 315 880"/>
<path class="t" d="M330 890 L790 1150 M975 790 Q1060 740 1150 725 L1165 745 Q1080 770 1020 825 L995 820 Z M820 1045 Q830 1035 845 1040 L885 1065 L885 1235 L830 1205 Q815 1150 820 1045"/>
<path class="i" d="M1000 770 Q1080 715 1165 700"/>
<path class="i" d="M1160 895 L1160 970 L1190 950 M1280 825 L1280 880 M1160 1310 L1160 1390 M1280 1245 L1280 1295"/>
<path class="t" d="M1295 820 L1295 890 M1295 1240 L1295 1305 M1160 1310 L1295 1240 M1160 895 L1290 825"/>
<path class="k w" d="M1195 915 L1255 875 L1330 915 L1330 940 L1275 965 L1195 925 Z"/>
<ellipse class="i" cx="1258" cy="915" rx="22" ry="9" transform="rotate(20 1258 915)"/>
<path class="k w" d="M1195 1330 L1255 1290 L1330 1330 L1330 1355 L1275 1380 L1195 1340 Z"/>
<ellipse class="i" cx="1258" cy="1330" rx="22" ry="9" transform="rotate(20 1258 1330)"/>
<path class="t" d="M1275 950 L1330 925 M1275 1365 L1330 1340"/>
<ellipse class="i" cx="1245" cy="1110" rx="78" ry="96" transform="rotate(20 1245 1110)"/>
<ellipse class="t" cx="1250" cy="1112" rx="58" ry="76" transform="rotate(20 1250 1112)"/>
<path class="k w" d="M1255 1100 L1290 1110 Q1310 1125 1300 1150 L1265 1160 Q1245 1150 1250 1120 Z"/>
<path class="i" d="M1290 1110 Q1272 1130 1282 1156"/>
</g>
<text class="lbl" x="2440" y="3147">12</text>

<!-- part 13 tile Q -->
<g transform="translate(1500,3300) scale(0.24661)">
<path class="t" d="M455 440 L455 840"/>
<path class="k w" d="M400 218 Q345 240 345 320 Q350 400 400 425 L460 435 Q490 430 500 400 L575 450 Q610 450 628 400 Q635 360 600 340 L555 320 Q560 260 520 240 L440 215 Q420 212 400 218 Z"/>
<path class="i" d="M440 218 Q395 250 395 330 Q400 405 440 432 M500 290 Q460 300 455 350 Q460 385 480 395 M500 290 L520 295 L600 340 M600 340 Q560 350 555 400 Q560 440 580 450"/>
<path class="t" d="M470 235 Q425 260 420 335 Q425 400 455 425 M540 330 Q510 350 515 395 L520 410"/>
</g>
<text class="lbl" x="1611" y="3559">13</text>
<text class="lbl" x="1596" y="1941">7</text>
<text class="lbl" x="1601" y="2406">8</text>

<!-- part 15 tile M -->
<g transform="translate(440,2880) scale(0.59186)">
<path fill="#fff" stroke="none" d="M455 1290 L450 1250 L470 1240 L470 1130 Q475 1050 460 1000 Q440 940 385 890 L290 845 L265 830 Q260 810 240 790 Q200 770 150 740 Q90 680 80 560 Q80 430 150 290 Q230 130 350 65 L365 60 L415 78 L415 90 L500 118 L555 180 L560 175 L620 200 L620 215 L635 222 L633 240 L600 235 Q575 250 585 275 Q590 285 610 295 L800 405 Q850 430 905 405 L935 390 L950 395 L965 410 L980 405 L1000 420 L1000 435 L1030 425 L1395 685 Q1480 740 1520 850 Q1550 950 1530 1080 Q1510 1200 1450 1290 Z"/>
<path class="k" d="M455 1290 L450 1250 L470 1240 L470 1130 Q475 1050 460 1000 Q440 940 385 890 L290 845 L265 830 Q260 810 240 790 Q200 770 150 740 Q90 680 80 560 Q80 430 150 290 Q230 130 350 65 L365 60 L415 78 L415 90 L500 118 L555 180 L560 175 L620 200 L620 215 L635 222 L633 240 L600 235 Q575 250 585 275 Q590 285 610 295 L800 405 Q850 430 905 405 L935 390 L950 395 L965 410 L980 405 L1000 420 L1000 435 L1030 425 L1395 685 Q1480 740 1520 850 Q1550 950 1530 1080 Q1510 1200 1450 1290"/>
<path class="k" d="M1395 685 Q1300 760 1250 900 Q1210 1050 1225 1200 L1240 1284 M365 60 L385 95 L415 78 M560 175 L555 195 L600 210 M940 392 L940 415 L955 420 M975 408 L985 430 L1000 435"/>
<path class="t" d="M1405 765 Q1320 830 1275 950 M240 290 L1215 860 M500 118 Q440 160 445 200 Q460 240 520 250 L580 270 M610 300 L800 412 Q860 470 1030 430"/>
<path class="t" d="M195 590 Q190 500 260 480 Q300 478 330 495 L960 880 M195 590 Q200 700 280 790 M258 600 Q260 520 310 510 L320 515 M258 600 Q265 690 320 760 M318 515 L965 890 Q940 1000 965 1110 M318 515 Q290 620 320 740 L345 765 M540 610 L960 880 M560 640 L975 910"/>
<path class="k" d="M540 615 L555 580 L630 620 L615 660 Z"/>
<path class="t" d="M540 615 L630 620"/>
<path class="k" d="M1015 800 L1035 765 L1130 822 L1112 858 Z M995 870 L1010 835 L1100 885 L1085 925 Z M975 940 L990 905 L1080 960 L1075 1000 Z M1145 875 L1160 840 L1215 870 L1195 910 Z M1120 935 L1135 905 L1190 935 L1175 975 Z"/>
<path class="t" d="M1015 800 L1130 822 M995 870 L1100 885 M975 940 L1080 960 M1145 875 L1215 870 M1120 935 L1190 935 M1025 760 L1210 860 M1100 885 L1110 858 M1080 1000 L1165 990"/>
<path class="k" d="M1165 1040 Q1150 1100 1165 1160 L1190 1250 M980 1080 L1085 1140 L1095 1165 M1000 1130 L1085 1175 L1110 1190 L1120 1210 L1180 1240 L1195 1265"/>
<path class="t" d="M270 785 L320 805 L315 795 L355 830 L325 830 L328 820 L285 800 Z"/>
<path class="k" d="M455 925 Q470 905 520 925 Q590 960 605 1010 Q600 1030 560 1010 Q490 980 455 925 M535 910 L610 950 L620 975"/>
<path class="t" d="M385 870 Q400 850 450 870 L540 915 L620 960 M385 870 Q400 920 470 960 Q520 1000 560 1100 Q590 1200 610 1284 M395 885 Q480 960 520 1040 Q560 1150 580 1284 M620 960 L1200 1280 M600 1000 L970 1150 M615 1125 Q700 1230 820 1284 M965 1110 L1200 1284"/>
<path class="k" d="M980 1284 Q990 1230 1040 1210 M1080 1284 L1100 1250 L1190 1284"/>
</g>
<!-- part 15 tile N -->
<g transform="translate(240,3600) scale(0.71517)">
<path fill="#fff" stroke="none" d="M660 60 Q700 90 740 140 Q770 180 770 220 L780 330 Q800 500 850 740 L860 800 Q860 830 845 845 L810 840 L600 980 L1400 985 L1380 860 L1290 520 L1200 230 Q1180 160 1170 110 Q1165 60 1185 25 L1335 85 Q1400 110 1450 95 L1520 60 L660 60 Z"/>
<path class="k" d="M668 20 L652 28 L656 56 Q700 90 740 140 Q770 180 770 220 L780 330 Q800 500 850 740 L860 800 Q860 830 845 845 L810 840 L600 980"/>
<path class="k" d="M1185 25 Q1165 60 1170 110 Q1180 160 1200 230 L1290 520 L1380 860 L1385 900 L1400 985 M1185 25 L1335 85 Q1400 110 1450 95 L1520 60 Q1545 40 1550 0 M1185 25 L1200 10 L1300 70"/>
<path class="t" d="M770 0 Q790 100 790 180 Q790 240 830 310 Q930 480 980 640 L1040 860 Q1050 910 1100 920 Q1250 930 1380 880 M785 0 Q805 100 805 180 Q808 240 845 305 Q945 480 995 640 L1055 850 Q1065 900 1110 908 Q1250 915 1375 868 M780 305 Q800 310 830 360 Q900 470 950 600 Q975 680 940 710 Q900 735 850 740 M885 0 Q980 60 1145 75 M1095 45 Q1090 20 1110 5 M800 880 Q830 880 845 865 M1375 830 L1570 940 M305 35 L305 180"/>
</g>
<!-- part 15 tile O -->
<g transform="translate(540,4300) scale(0.59186)">
<path fill="#fff" stroke="none" d="M218 0 Q190 30 180 100 L160 140 Q155 160 160 200 L205 390 L225 410 L215 495 L250 505 L262 580 L462 635 L495 610 L500 580 L475 570 L610 500 Q900 495 1050 470 Q1100 455 1120 450 Q1150 465 1180 440 L1250 395 Q1270 375 1262 340 L1232 250 L1185 0 Z"/>
<path class="k" d="M218 0 Q190 30 180 100 L160 140 Q155 160 160 200 L205 390 L225 410 L215 495 L250 505 L262 580 L462 635 L495 610 L500 580 L475 570 L610 500 Q900 495 1050 470 Q1100 455 1120 450 Q1150 465 1180 440 L1250 395 Q1270 375 1262 340 L1232 250 L1185 0"/>
<path class="t" d="M200 95 Q500 200 850 165 Q980 150 1035 130 M198 205 Q500 310 850 275 Q980 260 1030 240 M475 -125 Q500 -60 600 0 Q800 90 1000 60 Q1120 40 1180 5 M262 330 Q400 350 520 395 Q580 430 600 480 M228 445 L440 495 Q475 520 480 565 M475 490 L528 440 M1075 265 L1105 420 M1030 185 Q1100 180 1120 165"/>
<path class="k" d="M218 325 Q235 330 232 350 L220 400 M1070 240 L1140 200 L1155 190 L1215 260 L1240 250 M1070 240 Q1150 330 1175 400 Q1185 430 1180 440 M447 565 L462 635 M447 565 L500 580 M470 575 L475 590 L495 585"/>
<path class="k w" d="M1240 250 L1310 215 Q1340 210 1360 250 Q1375 285 1365 305 L1270 360 Q1260 300 1215 260 Z"/>
</g>
<text class="lbl" x="1401" y="4312">15</text>
<!-- part 14 tile P -->
<g transform="translate(240,3380) scale(0.28360)">
<path class="k w" d="M118 62 Q118 25 148 38 L1420 770 Q1452 788 1452 825 L1452 1205 Q1452 1245 1420 1230 L150 498 Q118 480 118 445 Z"/>
<path class="t" d="M768 858 L768 1230"/>
</g>
<text class="lbl" x="458" y="3777">14</text>

<!-- part 1 -->
<g transform="translate(2200,340) scale(0.36991)">
<path class="k w" d="M57 422 L192 345 L194 322 L272 280 L298 284 L438 200 Q455 190 472 198 L558 250 L562 268 L592 282 L768 385 L798 390 L808 410 L830 428 L1022 540 L1045 534 L1052 550 L1140 595 Q1150 602 1146 612 L1146 628 L1010 705 L1010 722 L935 768 L920 758 L760 850 Q750 856 738 850 L650 800 L640 775 L435 655 L400 655 L388 632 L180 510 L155 514 L60 455 Q52 440 57 422 Z"/>
<path class="m" d="M60 440 L155 495 L180 490 L388 612 L400 632 L435 632 L640 752 L650 775 L750 830 L918 738 L935 748 L1000 700 L1000 685 L1146 605"/>
<path class="t" d="M750 830 L750 852 M935 748 L935 768 M1000 685 L1010 705 M400 632 L400 655 M435 632 L435 655"/>
<path class="t" d="M205 462 L230 450 L710 725 L682 742 Z"/>
<path class="t" d="M530 285 L555 285 L1010 562 L985 578 L812 480"/>
<path class="k w" d="M345 460 Q350 395 372 365 L470 300 Q500 285 535 292 Q565 305 590 340 Q610 370 650 390 L720 420 Q775 435 795 470 L812 530 Q815 545 800 555 L700 612 Q640 640 590 610 L375 495 Q350 480 345 460 Z"/>
<path class="t" d="M372 400 Q380 420 420 450 Q480 490 560 530 Q640 565 700 545 L795 490"/>
<path class="t" d="M502 495 L645 415 M645 570 L645 625"/>
</g>
<line class="t" x1="2512" y1="497" x2="2690" y2="396"/>
<text class="lbl" x="2712" y="391">1</text>

<!-- part 3 label -->
<g transform="translate(2800,600) scale(0.36991)">
<path class="k" d="M235 248 Q235 212 262 226 L1245 792 Q1272 808 1272 838 L1272 1140 Q1272 1172 1245 1158 L262 592 Q235 576 235 545 Z"/>
<path class="t" d="M725 482 L1110 262 M885 1467 L1092 1580"/>
</g>
<text class="lbl" x="3233" y="692">3</text>
<text class="lbl" x="3225" y="1229">4</text>
<!-- part 4 screw -->
<g transform="translate(3040,1050) scale(0.11097)">
<path class="k w" d="M215 920 Q225 890 340 780 L960 420 Q950 320 1000 270 L1100 210 Q1180 190 1260 250 Q1380 360 1390 520 Q1390 580 1340 610 L1250 670 Q1180 690 1110 640 L500 990 Q400 1020 310 1040 Q240 1040 215 960 Z"/>
<path class="t" d="M1100 265 Q1230 300 1290 440 Q1315 540 1295 610"/>
<path class="m" d="M1000 385 L1070 355 Q1150 370 1200 450 Q1225 510 1200 560 L1110 640"/>
<path class="t" d="M1030 385 Q1110 430 1125 580"/>
<path class="m" d="M425 790 Q495 830 510 925 M530 725 Q595 770 612 865 M640 665 Q700 710 718 805 M735 605 Q800 650 818 745 M840 545 Q900 590 918 690 M940 490 Q1005 535 1020 630 M1035 430 Q1100 480 1120 575"/>
<ellipse class="t" cx="292" cy="962" rx="36" ry="52" transform="rotate(-25 292 962)"/>
</g>


</svg>
</body></html>
